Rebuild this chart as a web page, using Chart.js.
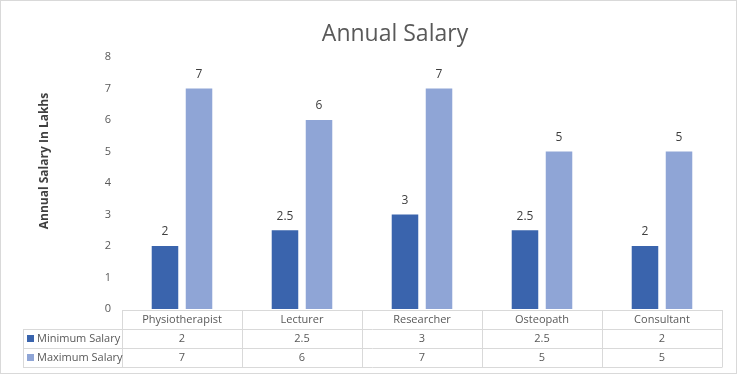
<!DOCTYPE html>
<html>
<head>
<meta charset="utf-8">
<script src="https://cdn.jsdelivr.net/npm/chart.js@4.4.0/dist/chart.umd.min.js"></script>
<style>
  html, body { margin: 0; padding: 0; background: #fff; }
  #wrap { width: 737px; height: 374px; position: relative; }
</style>
</head>
<body>
<div id="wrap"><canvas id="salaryChart" width="737" height="374"></canvas></div>
<script>
const jobs = ['Physiotherapist', 'Lecturer', 'Researcher', 'Osteopath', 'Consultant'];
const minSalary = [2, 2.5, 3, 2.5, 2];
const maxSalary = [7, 6, 7, 5, 5];
const seriesNames = ['Minimum Salary', 'Maximum Salary'];
const seriesColors = ['#3A64AD', '#8FA5D6'];
const yTicks = [0, 1, 2, 3, 4, 5, 6, 7, 8];

const textFont = '"Open Sans", "Noto Sans", sans-serif';
const lineGrey = '#D9D9D9';

// labels above each bar
const barLabels = {
    id: 'barLabels',
    afterDatasetsDraw(chart) {
        const ctx = chart.ctx;
        ctx.save();
        ctx.font = '12px ' + textFont;
        ctx.fillStyle = '#404040';
        ctx.textAlign = 'center';
        ctx.textBaseline = 'bottom';
        chart.data.datasets.forEach((ds, di) => {
            chart.getDatasetMeta(di).data.forEach((bar, i) => {
                ctx.fillText(String(ds.data[i]), bar.x, bar.y - 8);
            });
        });
        ctx.restore();
    }
};

// excel style data table under the plot, plus y title and outer border
const dataTable = {
    id: 'dataTable',
    afterDraw(chart) {
        const ctx = chart.ctx;
        const area = chart.chartArea;
        const xScale = chart.scales.x;
        const colW = (area.right - area.left) / jobs.length;
        const rowH = 19;
        const top = area.bottom + 1;
        const tableLeft = 23;

        ctx.save();
        ctx.strokeStyle = lineGrey;
        ctx.lineWidth = 1;

        // outer border of chart
        ctx.strokeRect(0.5, 0.5, chart.width - 1, chart.height - 1);

        ctx.beginPath();
        // horizontal lines
        ctx.moveTo(area.left, top + 0.5);
        ctx.lineTo(area.right, top + 0.5);
        for (let r = 1; r <= 3; r++) {
            const y = Math.round(top + r * rowH) + 0.5;
            ctx.moveTo(tableLeft, y);
            ctx.lineTo(area.right, y);
        }
        // vertical lines
        ctx.moveTo(tableLeft + 0.5, top + rowH);
        ctx.lineTo(tableLeft + 0.5, top + 3 * rowH + 0.5);
        for (let c = 0; c <= jobs.length; c++) {
            const x = Math.round(area.left + c * colW) + 0.5;
            ctx.moveTo(x, top);
            ctx.lineTo(x, top + 3 * rowH + 0.5);
        }
        ctx.stroke();

        ctx.font = '11px ' + textFont;
        ctx.fillStyle = '#595959';
        ctx.textBaseline = 'middle';
        ctx.textAlign = 'center';
        jobs.forEach((job, i) => {
            const cx = xScale.getPixelForTick(i);
            ctx.fillText(job, cx, top + rowH / 2);
            ctx.fillText(String(minSalary[i]), cx, top + rowH * 1.5);
            ctx.fillText(String(maxSalary[i]), cx, top + rowH * 2.5);
        });

        // series keys
        ctx.textAlign = 'left';
        seriesNames.forEach((name, s) => {
            const cy = top + rowH * (1.5 + s);
            ctx.fillStyle = seriesColors[s];
            ctx.fillRect(27, Math.round(cy - 3.5), 7, 7);
            ctx.fillStyle = '#595959';
            ctx.fillText(name, 37, cy);
        });

        // y axis title
        ctx.translate(45, 161);
        ctx.rotate(-Math.PI / 2);
        ctx.font = 'bold 12px ' + textFont;
        ctx.fillStyle = '#404040';
        ctx.textAlign = 'center';
        ctx.fillText('Annual Salary In Lakhs', 0, 0);
        ctx.restore();
    }
};

new Chart(document.getElementById('salaryChart'), {
    type: 'bar',
    data: {
        labels: jobs,
        datasets: [
            { label: seriesNames[0], data: minSalary, backgroundColor: seriesColors[0] },
            { label: seriesNames[1], data: maxSalary, backgroundColor: seriesColors[1] }
        ]
    },
    options: {
        responsive: false,
        animation: false,
        // left padding pushes the title centre to the right like the original
        layout: { padding: { top: 11, right: 15, bottom: 65, left: 68 } },
        datasets: {
            bar: { categoryPercentage: 0.567, barPercentage: 0.78 }
        },
        plugins: {
            legend: { display: false },
            tooltip: { enabled: false },
            title: {
                display: true,
                text: 'Annual Salary',
                color: '#595959',
                font: { family: textFont, size: 23, weight: 'normal' },
                padding: { top: 10, bottom: 8.4 }
            }
        },
        scales: {
            x: { display: false },
            y: {
                min: 0,
                max: 8,
                afterFit(scale) { scale.width = 54; },
                afterBuildTicks(scale) { scale.ticks = yTicks.map(v => ({ value: v })); },
                grid: { display: false, drawTicks: false },
                border: { display: false },
                ticks: {
                    padding: 11,
                    color: '#595959',
                    font: { family: textFont, size: 11 }
                }
            }
        }
    },
    plugins: [barLabels, dataTable]
});
</script>
</body>
</html>
